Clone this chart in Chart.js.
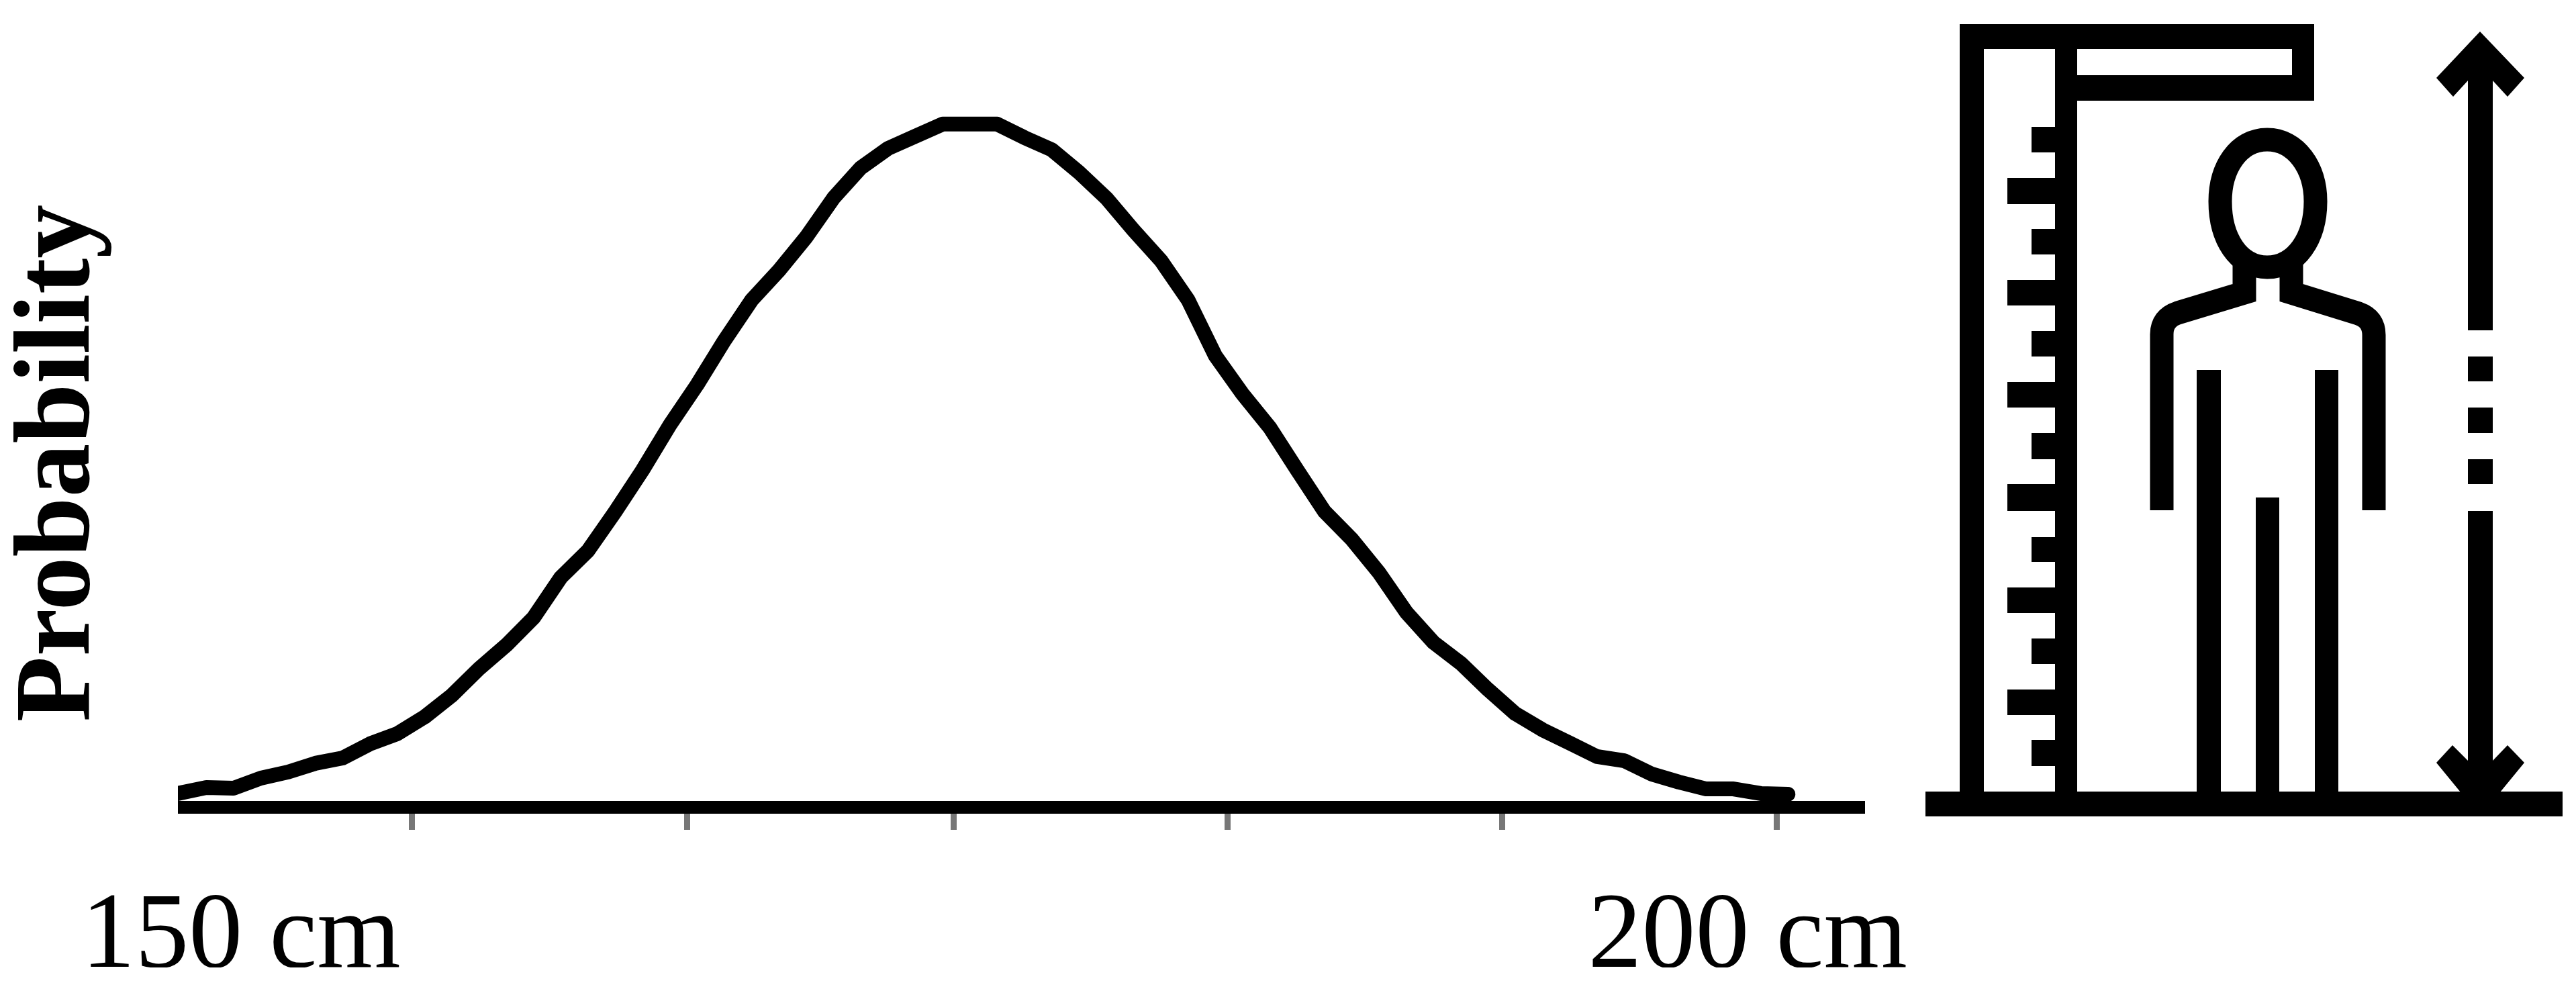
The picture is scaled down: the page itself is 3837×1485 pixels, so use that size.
<!DOCTYPE html>
<html>
<head>
<meta charset="utf-8">
<title>Height distribution</title>
<script src="https://cdn.jsdelivr.net/npm/chart.js@4"></script>
<style>
  html, body { margin: 0; padding: 0; background: #fff; }
  canvas { display: block; }
</style>
</head>
<body>
<canvas id="heightChart" width="3837" height="1485"></canvas>
<script>
/* ── data ── */
const heightsCm = [141.4,142.45,143.45,144.45,145.45,146.45,147.45,148.45,149.45,150.45,
  151.45,152.45,153.45,154.45,155.45,156.45,157.45,158.45,159.45,160.45,
  161.45,162.45,163.45,164.45,165.45,166.45,167.45,168.45,169.45,170.45,
  171.45,172.45,173.45,174.45,175.45,176.45,177.45,178.45,179.45,180.45,
  181.45,182.45,183.45,184.45,185.45,186.45,187.45,188.45,189.45,190.45,
  191.45,192.45,193.45,194.45,195.45,196.45,197.45,198.45,199.45,200.45];
const probability = [0.079,0.114,0.110,0.169,0.205,0.256,0.287,0.370,0.429,0.527,
  0.653,0.810,0.948,1.109,1.345,1.502,1.731,1.974,2.238,2.474,
  2.733,2.970,3.143,3.339,3.567,3.744,3.858,3.929,4.000,4.000,
  4.000,3.921,3.850,3.717,3.567,3.379,3.202,2.970,2.643,2.419,
  2.222,1.974,1.731,1.569,1.373,1.141,0.964,0.842,0.688,0.547,
  0.452,0.374,0.295,0.271,0.193,0.146,0.106,0.106,0.079,0.075];
const tickCm = [150,160.07,169.85,179.9,189.97,200.03];
const endLabels = ['150 cm','200 cm'];
const yTitle = 'Probability';

const SERIF = '"Liberation Serif", serif';
const BLACK = '#000';

/* ── texts that sit outside the axes ── */
const textPlugin = {
  id: 'texts',
  afterDraw(chart) {
    const { ctx, scales: { x } } = chart;
    const anchors = [143.72, 198.97];
    ctx.save();
    ctx.fillStyle = BLACK;
    ctx.textAlign = 'center';
    ctx.textBaseline = 'alphabetic';

    // the source crops the labels right at the baseline
    ctx.save();
    ctx.beginPath();
    ctx.rect(0, 1250, 3000, 191);
    ctx.clip();
    ctx.font = '160px ' + SERIF;
    endLabels.forEach((t, i) => ctx.fillText(t, x.getPixelForValue(anchors[i]), 1440));
    ctx.restore();

    ctx.translate(132, 690);
    ctx.rotate(-Math.PI / 2);
    ctx.font = 'bold 160px ' + SERIF;
    ctx.fillText(yTitle, 0, 0);
    ctx.restore();
  }
};

/* ── height meter pictogram on the right ── */
const iconPlugin = {
  id: 'meterIcon',
  afterDraw(chart) {
    const ctx = chart.ctx;
    ctx.save();
    ctx.fillStyle = BLACK;
    ctx.strokeStyle = BLACK;

    // base, posts, head bracket
    [[2868,1179,949,37],[2919,36,36,1150],[3061,36,33,1150],[2919,36,528,37],
     [3061,112,386,38],[3414,36,33,114]].forEach(r => ctx.fillRect(...r));

    // ruler marks
    [[189,227],[341,379],[493,531],[645,684],[800,837],[951,989],[1102,1141]]
      .forEach(m => ctx.fillRect(3026, m[0], 36, m[1] - m[0]));
    [[265,304],[417,455],[569,607],[721,761],[875,913],[1027,1065]]
      .forEach(m => ctx.fillRect(2990, m[0], 72, m[1] - m[0]));

    // legs
    [[3272,551,36],[3448,551,35],[3360,741,35]]
      .forEach(l => ctx.fillRect(l[0], l[1], l[2], 1186 - l[1]));

    // head and shoulders
    ctx.lineWidth = 35;
    ctx.lineJoin = 'miter';
    ctx.lineCap = 'butt';
    ctx.stroke(new Path2D('M3377 208 C3420 208 3449 250 3449 300 C3449 355 3420 398 3377 398 C3334 398 3307 355 3307 300 C3307 250 3334 208 3377 208 Z'));
    ctx.stroke(new Path2D('M3343 390 L3343 436 L3244 466 Q3220 474 3220 498 L3220 760'));
    ctx.stroke(new Path2D('M3413 390 L3413 436 L3513 467 Q3536 475 3536 499 L3536 760'));

    // dashed double arrow
    [[100,492],[531,568],[607,645],[684,721],[761,1186]]
      .forEach(s => ctx.fillRect(3676, s[0], 37, s[1] - s[0]));
    ctx.fill(new Path2D('M3694 47 L3760 116 L3735 144 L3713 120 L3676 120 L3654 144 L3629 116 Z'));
    ctx.fill(new Path2D('M3653 1110 L3676 1133 L3713 1133 L3735 1110 L3760 1136 L3719 1186 L3670 1186 L3629 1136 Z'));
    ctx.restore();
  }
};

new Chart(document.getElementById('heightChart'), {
  type: 'line',
  data: {
    datasets: [{
      data: heightsCm.map((h, i) => ({ x: h, y: probability[i] })),
      borderColor: BLACK,
      borderWidth: 22,
      borderCapStyle: 'round',
      borderJoinStyle: 'round',
      pointRadius: 0,
      tension: 0,
      fill: false,
      clip: 9.5,
    }]
  },
  options: {
    responsive: false,
    animation: false,
    devicePixelRatio: 1,
    // the axis line overhangs the scale by half its width on the left
    layout: { padding: { left: 274.5, right: 1060, top: 134, bottom: 249 } },
    plugins: { legend: { display: false }, tooltip: { enabled: false } },
    scales: {
      x: {
        type: 'linear',
        min: 141.642,
        max: 203.25,
        afterBuildTicks: s => { s.ticks = tickCm.map(v => ({ value: v })); },
        ticks: { display: false, autoSkip: false },
        // tick length counts from the middle of the axis line
        grid: { drawOnChartArea: false, drawTicks: true, tickLength: 34, tickColor: '#777', tickWidth: 9 },
        border: { display: true, color: BLACK, width: 19 },
      },
      y: { display: false, min: 0, max: 4.2 },
    }
  },
  plugins: [textPlugin, iconPlugin]
});
</script>
</body>
</html>
